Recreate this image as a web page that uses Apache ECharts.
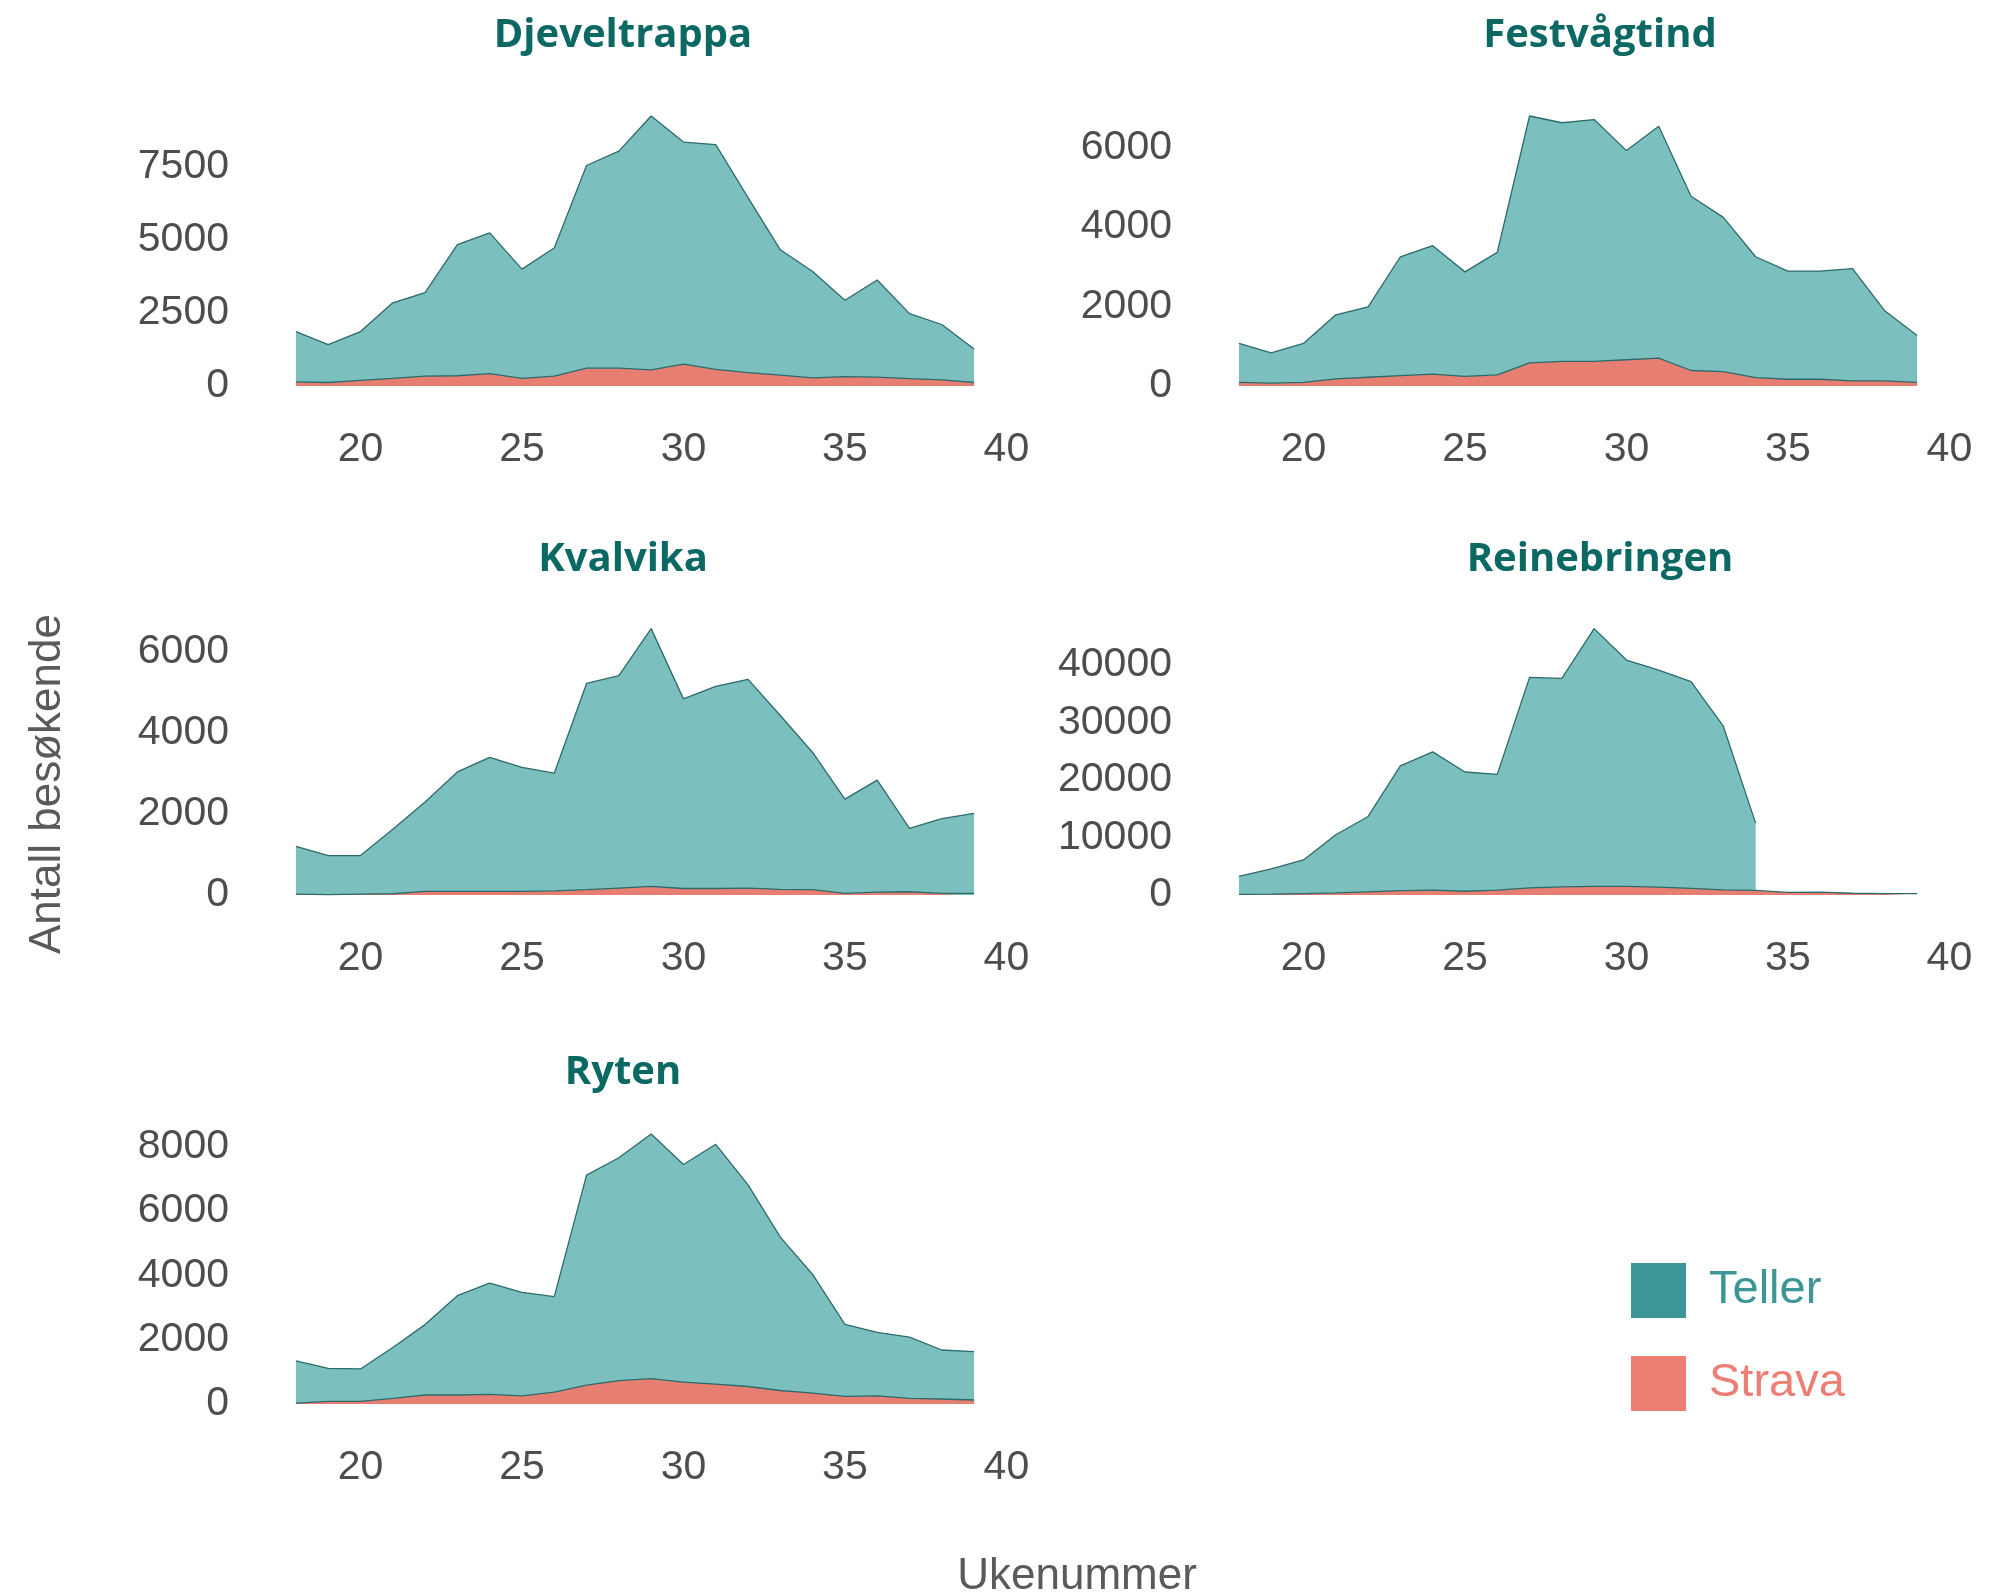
<!DOCTYPE html>
<html><head><meta charset="utf-8">
<script src="https://cdn.jsdelivr.net/npm/echarts@6/dist/echarts.min.js"></script>
<style>html,body{margin:0;padding:0;background:#fff}#c{width:1991px;height:1592px}</style>
</head><body><div id="c"></div>
<script>
const weeks = [18,19,20,21,22,23,24,25,26,27,28,29,30,31,32,33,34,35,36,37,38,39];
const reineWeeks = [18,19,20,21,22,23,24,25,26,27,28,29,30,31,32,33,34];

const djeveltrappaTeller = [1860,1410,1860,2840,3190,4830,5230,3990,4710,7530,8020,9220,8330,8240,6430,4650,3910,2930,3620,2470,2100,1260];
const djeveltrappaStrava = [140,120,190,260,340,350,420,260,340,610,610,550,750,570,460,370,280,320,300,250,210,120];

const festvagtindTeller = [1070,830,1070,1790,1990,3250,3530,2870,3360,6790,6620,6700,5920,6530,4770,4240,3250,2890,2890,2950,1890,1270];
const festvagtindStrava = [90,70,90,180,220,260,300,240,280,580,620,620,660,700,390,360,210,170,170,130,130,90];

const kvalvikaTeller = [1200,970,970,1620,2290,3030,3390,3140,3000,5210,5400,6560,4830,5140,5310,4420,3510,2360,2830,1640,1880,2010];
const kvalvikaStrava = [20,10,20,30,90,90,90,90,100,130,170,210,160,160,170,140,130,40,70,80,40,40];

const reinebringenTeller = [3250,4530,6100,10460,13650,22430,24870,21380,20970,37820,37650,46300,40840,39100,37070,29340,12490];
const reinebringenStrava = [100,150,250,350,550,750,850,650,850,1250,1400,1500,1500,1350,1150,900,800,450,500,300,250,250];

const rytenTeller = [1340,1110,1090,1760,2470,3370,3760,3470,3340,7120,7660,8400,7450,8080,6820,5190,4030,2480,2230,2080,1680,1630];
const rytenStrava = [30,80,80,175,280,280,300,250,370,585,730,790,680,620,545,420,340,235,255,175,155,125];

const panelNames = ['Djeveltrappa','Festvågtind','Kvalvika','Reinebringen','Ryten'];
const xTicks = [20,25,30,35,40];
const yTicks = [
  [0,2500,5000,7500],
  [0,2000,4000,6000],
  [0,2000,4000,6000],
  [0,10000,20000,30000,40000],
  [0,2000,4000,6000,8000]
];
const legendNames = ['Teller','Strava'];

const panels = [
  {tw: weeks, t: djeveltrappaTeller, s: djeveltrappaStrava},
  {tw: weeks, t: festvagtindTeller, s: festvagtindStrava},
  {tw: weeks, t: kvalvikaTeller, s: kvalvikaStrava},
  {tw: reineWeeks, t: reinebringenTeller, s: reinebringenStrava},
  {tw: weeks, t: rytenTeller, s: rytenStrava}
];

const colLeft = [262, 1205];
const rowBottom = [399.5, 908.3, 1417.5];
const rowHeight = [297, 293, 297];
const titleX = [623, 1600];
const titleY = [36, 560, 1073];
const gW = 746;

const TELLER_FILL = '#7bc0bf';
const STRAVA_FILL = '#e77e72';
const EDGE = '#2c6b6a';
const TELLER_KEY = '#3d9696';
const STRAVA_KEY = '#ec7e73';
const FONT = '"Liberation Sans", Arial, sans-serif';

const grids = [], xAxes = [], yAxes = [], series = [], graphics = [];
panels.forEach((p, i) => {
  const col = i % 2, row = Math.floor(i / 2);
  grids.push({left: colLeft[col], top: rowBottom[row] - rowHeight[row], width: gW, height: rowHeight[row], containLabel: false});
  xAxes.push({
    type: 'value', gridIndex: i, min: 16.95, max: 40.05,
    axisLine: {show: false}, axisTick: {show: false}, splitLine: {show: false},
    axisLabel: {customValues: xTicks, color: '#4d4d4d', fontSize: 41, fontFamily: FONT, margin: 30, formatter: v => String(v)}
  });
  const mx = Math.max(...p.t);
  yAxes.push({
    type: 'value', gridIndex: i, min: -0.05 * mx, max: 1.05 * mx,
    axisLine: {show: false}, axisTick: {show: false}, splitLine: {show: false},
    axisLabel: {customValues: yTicks[i], color: '#4d4d4d', fontSize: 41, fontFamily: FONT, margin: 33, formatter: v => String(v)}
  });
  series.push({
    name: 'Teller', type: 'line', xAxisIndex: i, yAxisIndex: i,
    data: p.tw.map((w, k) => [w, p.t[k]]),
    showSymbol: false, symbol: 'none', silent: true, animation: false,
    itemStyle: {color: TELLER_KEY},
    lineStyle: {color: EDGE, width: 1.3},
    areaStyle: {color: TELLER_FILL, opacity: 1}
  });
  series.push({
    name: 'Strava', type: 'line', xAxisIndex: i, yAxisIndex: i,
    data: weeks.map((w, k) => [w, p.s[k]]),
    showSymbol: false, symbol: 'none', silent: true, animation: false,
    itemStyle: {color: STRAVA_KEY},
    lineStyle: {color: EDGE, width: 1.3},
    areaStyle: {color: STRAVA_FILL, opacity: 1}
  });
  graphics.push({
    type: 'text', x: titleX[col], y: titleY[row],
    style: {text: panelNames[i], fill: '#0b6863', font: 'bold 40px "Open Sans", sans-serif', textAlign: 'center', textVerticalAlign: 'middle'}
  });
});

graphics.push({
  type: 'text', x: 48, y: 784, rotation: Math.PI / 2,
  style: {text: 'Antall besøkende', fill: '#5a5a5a', font: '44px ' + FONT, textAlign: 'center', textVerticalAlign: 'middle'}
});
graphics.push({
  type: 'text', x: 1077, y: 1577,
  style: {text: 'Ukenummer', fill: '#5a5a5a', font: '44px ' + FONT, textAlign: 'center', textVerticalAlign: 'middle'}
});

const chart = echarts.init(document.getElementById('c'), null, {renderer: 'canvas'});
chart.setOption({
  animation: false,
  backgroundColor: '#ffffff',
  grid: grids, xAxis: xAxes, yAxis: yAxes, series: series,
  legend: {
    orient: 'vertical', left: 1631, top: 1263, padding: 0,
    itemWidth: 55, itemHeight: 55, itemGap: 38, icon: 'rect',
    itemStyle: {borderWidth: 0},
    selectedMode: false,
    data: [
      {name: legendNames[0], itemStyle: {color: TELLER_KEY}, textStyle: {color: TELLER_KEY}},
      {name: legendNames[1], itemStyle: {color: STRAVA_KEY}, textStyle: {color: STRAVA_KEY}}
    ],
    textStyle: {fontSize: 47, fontFamily: FONT, padding: [0, 0, 0, 18]}
  },
  graphic: graphics
});
</script></body></html>
